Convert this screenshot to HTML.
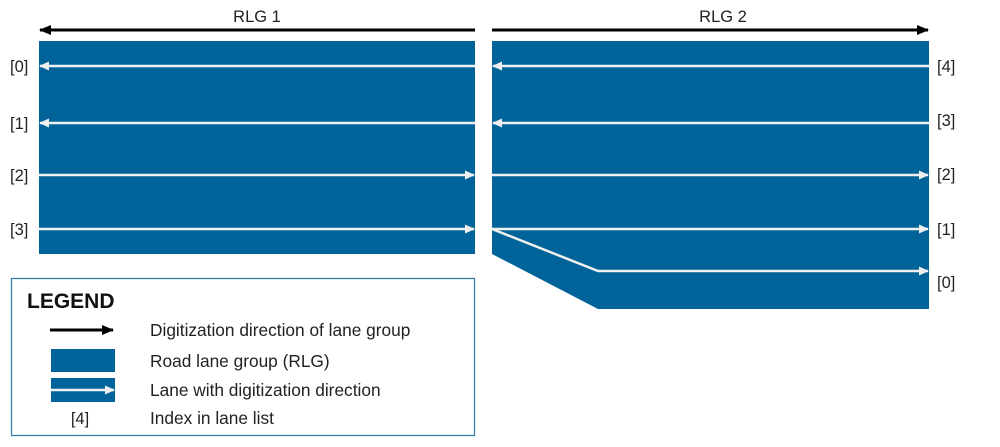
<!DOCTYPE html>
<html><head><meta charset="utf-8"><style>
html,body{margin:0;padding:0;background:#fff;width:1000px;height:447px;overflow:hidden}
text{font-family:"Liberation Sans",Arial,sans-serif}
</style></head><body>
<svg width="1000" height="447" viewBox="0 0 1000 447">
<defs>
<marker id="bk" markerWidth="12" markerHeight="10" refX="11" refY="5" orient="auto" markerUnits="userSpaceOnUse"><path d="M0,0 L12,5 L0,10 z" fill="#000"/></marker>
<marker id="wh" markerWidth="10" markerHeight="9" refX="9" refY="4.5" orient="auto" markerUnits="userSpaceOnUse"><path d="M0,0 L10,4.5 L0,9 z" fill="#f0f0f0"/></marker>
</defs>
<g>
<text x="257" y="22" font-size="16.5" text-anchor="middle" fill="#222">RLG 1</text>
<line x1="475" y1="30" x2="40" y2="30" stroke="#000" stroke-width="3" marker-end="url(#bk)"/>
<rect x="39" y="41" width="436" height="213" fill="#00639a"/>
<line x1="475" y1="66" x2="40" y2="66" stroke="#f0f0f0" stroke-width="2.5" marker-end="url(#wh)"/>
<line x1="475" y1="123" x2="40" y2="123" stroke="#f0f0f0" stroke-width="2.5" marker-end="url(#wh)"/>
<line x1="39" y1="175" x2="474" y2="175" stroke="#f0f0f0" stroke-width="2.5" marker-end="url(#wh)"/>
<line x1="39" y1="229" x2="474" y2="229" stroke="#f0f0f0" stroke-width="2.5" marker-end="url(#wh)"/>
<g font-size="16.5" fill="#222">
<text x="10" y="72">[0]</text>
<text x="10" y="129">[1]</text>
<text x="10" y="181">[2]</text>
<text x="10" y="235">[3]</text>
</g>
</g>
<g>
<text x="723" y="22" font-size="16.5" text-anchor="middle" fill="#222">RLG 2</text>
<line x1="492" y1="30" x2="928" y2="30" stroke="#000" stroke-width="3" marker-end="url(#bk)"/>
<polygon points="492,41 929,41 929,309 598,309 492,254" fill="#00639a"/>
<line x1="929" y1="66" x2="493" y2="66" stroke="#f0f0f0" stroke-width="2.5" marker-end="url(#wh)"/>
<line x1="929" y1="123" x2="493" y2="123" stroke="#f0f0f0" stroke-width="2.5" marker-end="url(#wh)"/>
<line x1="492" y1="175" x2="928" y2="175" stroke="#f0f0f0" stroke-width="2.5" marker-end="url(#wh)"/>
<line x1="492" y1="229" x2="928" y2="229" stroke="#f0f0f0" stroke-width="2.5" marker-end="url(#wh)"/>
<polyline points="492,229 598,271 928,271" fill="none" stroke="#f0f0f0" stroke-width="2.5" marker-end="url(#wh)"/>
<g font-size="16.5" fill="#222">
<text x="937" y="72">[4]</text>
<text x="937" y="126">[3]</text>
<text x="937" y="180">[2]</text>
<text x="937" y="235">[1]</text>
<text x="937" y="288">[0]</text>
</g>
</g>
<g>
<rect x="11.5" y="278.5" width="463" height="157" fill="#fff" stroke="#3a7fa8" stroke-width="1.3"/>
<text x="27" y="308" font-size="21" font-weight="bold" fill="#111">LEGEND</text>
<line x1="50" y1="330" x2="113" y2="330" stroke="#000" stroke-width="3" marker-end="url(#bk)"/>
<rect x="51" y="349" width="64" height="23" fill="#00639a"/>
<rect x="51" y="378" width="64" height="24" fill="#00639a"/>
<line x1="51" y1="390" x2="114" y2="390" stroke="#f0f0f0" stroke-width="2.5" marker-end="url(#wh)"/>
<text x="80" y="424" font-size="16.5" text-anchor="middle" fill="#222">[4]</text>
<g font-size="17.3" fill="#222">
<text x="150" y="336">Digitization direction of lane group</text>
<text x="150" y="367">Road lane group (RLG)</text>
<text x="150" y="396">Lane with digitization direction</text>
<text x="150" y="424">Index in lane list</text>
</g>
</g>
</svg>
</body></html>
